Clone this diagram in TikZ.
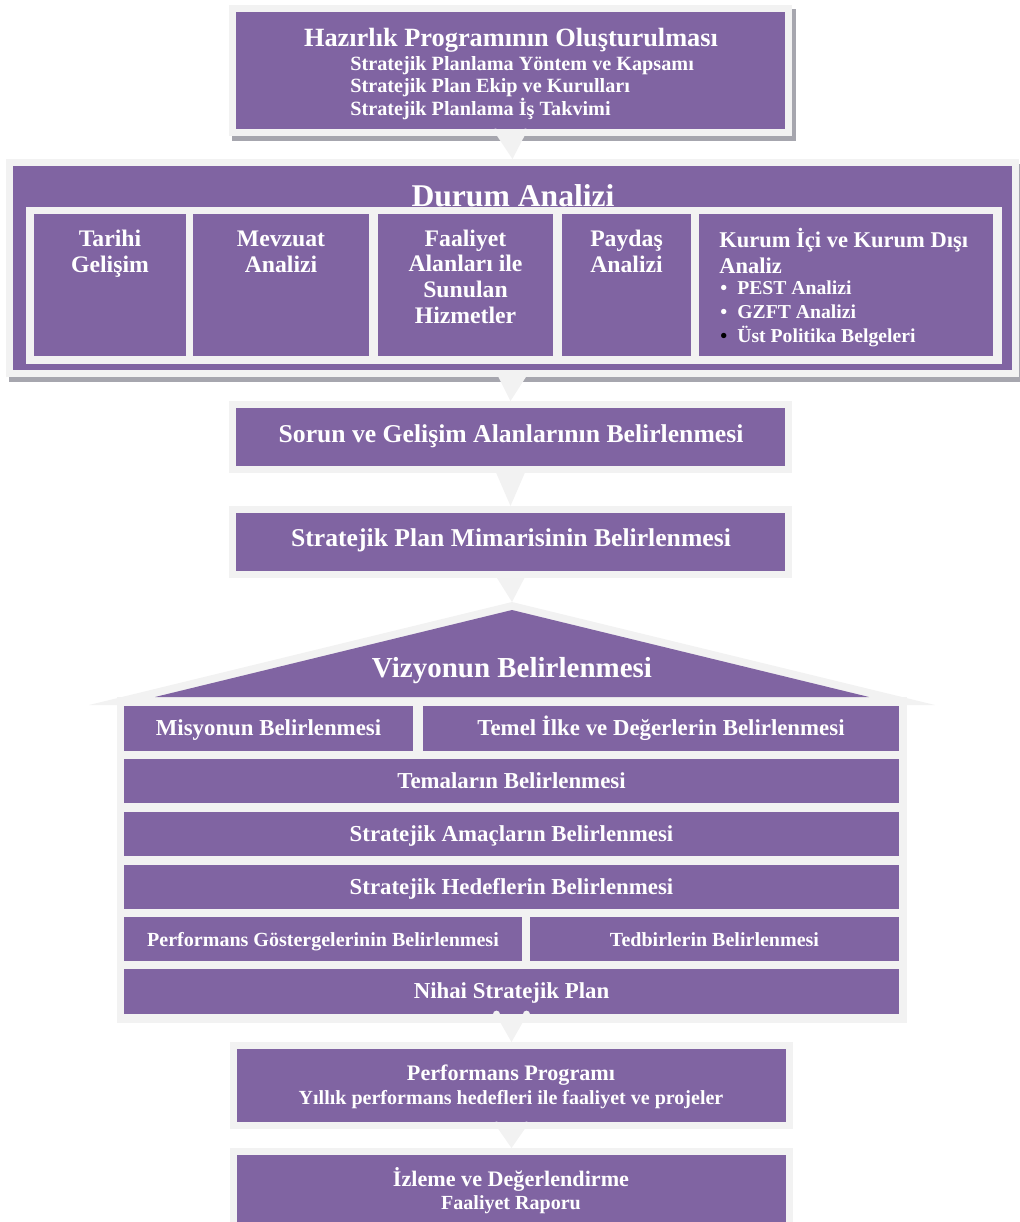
\documentclass[tikz,border=0pt]{standalone}
\usepackage{fontspec}
\setmainfont{Liberation Serif}
\usetikzlibrary{calc}
\definecolor{plum}{RGB}{128,100,162}
\definecolor{frm}{RGB}{242,242,242}
\definecolor{shd}{RGB}{166,166,174}
\tikzset{
  box/.style={draw=frm, line width=1.4mm, fill=plum, inner sep=0pt},
  cell/.style={fill=plum, inner sep=0pt, minimum height=28.4mm},
  row/.style={fill=plum, inner sep=0pt, minimum height=8.9mm, text=white,
    text height=0.9em, text depth=0.1em, font=\bfseries\fontsize{13}{15}\selectfont},
  rowsm/.style={row, font=\bfseries\fontsize{11.4}{13}\selectfont},
  hd/.style={text=white, inner sep=0pt, font=\bfseries\fontsize{15}{18}\selectfont},
  big/.style={text=white, inner sep=0pt, font=\bfseries\fontsize{18}{21}\selectfont},
  mn/.style={text=white, inner sep=0pt, font=\bfseries\fontsize{14.6}{17}\selectfont},
  sub/.style={text=white, inner sep=0pt, align=left, font=\bfseries\fontsize{11.5}{12.8}\selectfont},
  cl/.style={text=white, inner sep=0pt, align=center, font=\bfseries\fontsize{13.5}{14.7}\selectfont},
  bl/.style={text=white, inner sep=0pt, align=left, font=\bfseries\fontsize{11.2}{13.6}\selectfont},
  ln/.style={text=white, inner sep=0pt, font=\bfseries\fontsize{12.6}{15}\selectfont},
  lnsm/.style={text=white, inner sep=0pt, font=\bfseries\fontsize{11.4}{13}\selectfont},
}
\begin{document}
\begin{tikzpicture}[x=0.2mm, y=-0.2mm]
  \useasboundingbox (0,0) rectangle (1020,1222);
  %
  \fill[shd] (232,9) rectangle (796,141);        % shadows
  \fill[shd] (9,164) rectangle (1024,382);
  %
  \node[box, minimum width=111.2mm, minimum height=24.8mm] (hz) at (510.5,70.5) {}; % first stage
  \node[hd] (hzT) at (511,40) {Hazırlık Programının Oluşturulması};
  \node[sub, anchor=west] (hzL) at (350,88) {Stratejik Planlama Yöntem ve Kapsamı\\
    Stratejik Plan Ekip ve Kurulları\\Stratejik Planlama İş Takvimi};
  %
  \node[box, minimum width=201.2mm, minimum height=42.2mm] (da) at (512.5,268) {}; % durum analizi
  \node[fill=frm, inner sep=0pt, minimum width=195.2mm, minimum height=31.4mm] (dp) at (514,285.5) {};
  \node[big] (daT) at (513,196) {Durum Analizi};
  %%
  \node[cell, minimum width=30.4mm] (c1) at (110,285) {};   % cells
  \node[cell, minimum width=35.2mm] (c2) at (281,285) {};
  \node[cell, minimum width=35mm]   (c3) at (465.5,285) {};
  \node[cell, minimum width=25.8mm] (c4) at (626.5,285) {};
  \node[cell, minimum width=58.8mm] (c5) at (846,285) {};
  %%
  \node[cl] (c1t) at ($(c1.north)+(0,40)$) {Tarihi\\Gelişim};
  \node[cl] (c2t) at ($(c2.north)+(0,38)$) {Mevzuat\\Analizi};
  \node[cl] (c3t) at ($(c3.north)+(0,63)$) {Faaliyet\\Alanları ile\\Sunulan\\Hizmetler};
  \node[cl] (c4t) at ($(c4.north)+(0,38)$) {Paydaş\\Analizi};
  \node[cl, align=left, anchor=west, font=\bfseries\fontsize{12.8}{14.7}\selectfont] (c5t) at (719,251) {Kurum İçi ve Kurum Dışı\\Analiz};
  \node[bl, anchor=west] (c5b) at (720,314) {\makebox[3.4mm][l]{•}PEST Analizi\\
    \makebox[3.4mm][l]{•}GZFT Analizi\\\makebox[3.4mm][l]{\color{black}•}Üst Politika Belgeleri};
  %
  \node[box, minimum width=111.2mm, minimum height=13mm] (sg) at (510.5,437) {}; % middle stages
  \node[mn] (sgT) at (511,436) {Sorun ve Gelişim Alanlarının Belirlenmesi};
  \node[box, minimum width=111.2mm, minimum height=13mm] (sp) at (510.5,542) {};
  \node[mn] (spT) at (511,540) {Stratejik Plan Mimarisinin Belirlenmesi};
  %
  \coordinate (rf) at (512,602);                  % house
  \fill[frm] (89,705) -- (rf) -- (935,705) -- cycle;
  \fill[frm] (117,697) rectangle (907,1023);
  \fill[plum] (155,697) -- (512,610) -- (869,697) -- cycle;
  \node[big, font=\bfseries\fontsize{16.5}{19}\selectfont] (vz) at (512,671) {Vizyonun Belirlenmesi};
  %%
  \node[row, minimum width=57.8mm] (r1a) at (268.5,728.5) {Misyonun Belirlenmesi};
  \node[row, minimum width=95.2mm] (r1b) at (661,728.5) {Temel İlke ve Değerlerin Belirlenmesi};
  \node[row, minimum width=155mm] (r2) at (511.5,781) {Temaların Belirlenmesi};
  \node[row, minimum width=155mm] (r3) at (511.5,834) {Stratejik Amaçların Belirlenmesi};
  \node[row, minimum width=155mm] (r4) at (511.5,887) {Stratejik Hedeflerin Belirlenmesi};
  \node[rowsm, minimum width=79.6mm] (r5a) at (323,939) {Performans Göstergelerinin Belirlenmesi};
  \node[rowsm, minimum width=73.8mm] (r5b) at (714.5,939) {Tedbirlerin Belirlenmesi};
  \node[row, minimum width=155mm] (r6) at (511.5,991.5) {Nihai Stratejik Plan};
  %
  \node[box, minimum width=111.2mm, minimum height=16mm] (pp) at (511.5,1085.5) {}; % last stages
  \node[ln] (ppT) at (511,1075) {Performans Programı};
  \node[lnsm] (ppL) at (511,1100) {Yıllık performans hedefleri ile faaliyet ve projeler};
  \node[box, minimum width=111.2mm, minimum height=19mm] (iz) at (511.5,1199) {};
  \node[ln] (izT) at (511,1179) {İzleme ve Değerlendirme};
  \node[lnsm] (izL) at (511,1205) {Faaliyet Raporu};
  %
  \fill[frm] ($(hz.south)+(-16,-4)$) -- ($(hz.south)+(16,-4)$) -- (da.north) -- cycle; % arrows
  \fill[frm] ($(hz.south)+(-15,-4)$) circle (3.5) ($(hz.south)+(15,-4)$) circle (3.5);
  \fill[frm] ($(da.south)+(-16,-4)$) -- ($(da.south)+(16,-4)$) -- (sg.north) -- cycle;
  \fill[frm] ($(sg.south)+(-16,-4)$) -- ($(sg.south)+(16,-4)$) -- (sp.north) -- cycle;
  \fill[frm] ($(sp.south)+(-16,-4)$) -- ($(sp.south)+(16,-4)$) -- (rf) -- cycle;
  \fill[frm] ($(r6.south)+(-16,0)$) -- ($(r6.south)+(16,0)$) -- (pp.north) -- cycle;
  \fill[frm] ($(r6.south)+(-15,0)$) circle (3.5) ($(r6.south)+(15,0)$) circle (3.5);
  \fill[frm] ($(pp.south)+(-16,-4)$) -- ($(pp.south)+(16,-4)$) -- (iz.north) -- cycle;
  \fill[frm] ($(pp.south)+(-15,-4)$) circle (3.5) ($(pp.south)+(15,-4)$) circle (3.5);
\end{tikzpicture}
\end{document}
